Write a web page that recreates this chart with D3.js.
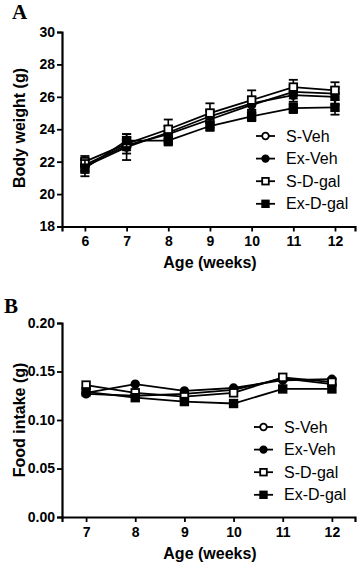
<!DOCTYPE html>
<html>
  <head>
    <meta charset="utf-8" />
    <script src="https://d3js.org/d3.v7.min.js"></script>
    <style>
      body { margin: 0; background: #fff; }
      svg { display: block; font-family: "Liberation Sans", Arial, sans-serif; }
    </style>
  </head>
  <body>
    <svg width="358" height="563"></svg>
    <script>
      const seriesNames = ["S-Veh", "Ex-Veh", "S-D-gal", "Ex-D-gal"];
      const seriesShapes = ["circle", "circle", "square", "square"];
      const seriesFilled = [false, true, false, true];

      // Panel A: body weight (g)
      const weeksA = [6, 7, 8, 9, 10, 11, 12];
      const weightSVeh = [21.8, 23.0, 23.7, 24.6, 25.5, 26.3, 26.2];
      const weightExVeh = [21.7, 22.9, 23.8, 24.8, 25.6, 26.1, 26.0];
      const weightSDgal = [22.0, 23.1, 24.0, 25.0, 25.8, 26.6, 26.4];
      const weightExDgal = [21.6, 23.3, 23.3, 24.2, 24.8, 25.3, 25.35];
      const weightErr = [
        [0.35, 0.5, 0.5, 0.5, 0.5, 0.4, 0.4],
        [0.4, 0.8, 0.4, 0.4, 0.4, 0.4, 0.5],
        [0.35, 0.4, 0.6, 0.6, 0.6, 0.45, 0.5],
        [0.5, 0.4, 0.3, 0.3, 0.3, 0.3, 0.45]
      ];
      const weightTicks = [18, 20, 22, 24, 26, 28, 30];

      // Panel B: food intake (g)
      const weeksB = [7, 8, 9, 10, 11, 12];
      const foodSVeh = [0.127, 0.125, 0.127, 0.131, 0.143, 0.137];
      const foodExVeh = [0.128, 0.137, 0.130, 0.133, 0.141, 0.142];
      const foodSDgal = [0.136, 0.128, 0.124, 0.128, 0.144, 0.139];
      const foodExDgal = [0.129, 0.123, 0.119, 0.117, 0.132, 0.132];
      const foodTicks = [0, 0.05, 0.10, 0.15, 0.20];

      const svg = d3.select("svg");

      function drawMarker(sel, shape, filled, r) {
        if (shape === "circle") {
          sel.append("circle").attr("r", r);
        } else {
          sel.append("rect").attr("x", -r).attr("y", -r).attr("width", 2 * r).attr("height", 2 * r);
        }
        sel.selectAll("circle,rect")
          .attr("fill", filled ? "#000" : "#fff")
          .attr("stroke", "#000")
          .attr("stroke-width", 1.8);
      }

      function panel(opts) {
        const x = d3.scaleLinear().domain(opts.xDomain).range([62, 355]);
        const y = d3.scaleLinear().domain(opts.yDomain).range(opts.yRange);
        const g = svg.append("g");

        const yAxis = g.append("g")
          .attr("transform", "translate(62,0)")
          .call(d3.axisLeft(y).tickValues(opts.yTicks).tickFormat(opts.yFormat).tickSize(5).tickPadding(2));
        const xAxis = g.append("g")
          .attr("transform", `translate(0,${opts.yRange[0]})`)
          .call(d3.axisBottom(x).tickValues(opts.weeks).tickFormat(d3.format("d")).tickSize(5).tickPadding(5));
        [xAxis, yAxis].forEach(a => {
          a.select(".domain").attr("stroke-width", 2.2);
          a.selectAll(".tick line").attr("stroke-width", 1.8);
          a.selectAll("text").attr("font-size", 14).attr("font-weight", "bold")
            .attr("font-family", "Liberation Sans, Arial, sans-serif").attr("fill", "#000");
        });

        g.append("text")
          .attr("x", 210).attr("y", opts.xTitleY)
          .attr("text-anchor", "middle").attr("font-size", 16).attr("font-weight", "bold")
          .text("Age (weeks)");
        g.append("text")
          .attr("transform", `translate(25,${opts.yTitleY}) rotate(-90)`)
          .attr("text-anchor", "middle").attr("font-size", 16).attr("font-weight", "bold")
          .text(opts.yTitle);
        g.append("text")
          .attr("x", opts.letterX).attr("y", opts.letterY)
          .attr("font-family", "Liberation Serif, Times New Roman, serif")
          .attr("font-size", 21).attr("font-weight", "bold")
          .text(opts.letter);

        const line = d3.line().x((d, i) => x(opts.weeks[i])).y(d => y(d));

        opts.series.forEach((vals, s) => {
          const sg = g.append("g");
          if (opts.errors) {
            vals.forEach((v, i) => {
              const e = opts.errors[s][i];
              const cx = x(opts.weeks[i]);
              sg.append("line").attr("x1", cx).attr("x2", cx)
                .attr("y1", y(v - e)).attr("y2", y(v + e))
                .attr("stroke", "#000").attr("stroke-width", 1.6);
              [v - e, v + e].forEach(b => {
                sg.append("line").attr("x1", cx - 4.5).attr("x2", cx + 4.5)
                  .attr("y1", y(b)).attr("y2", y(b))
                  .attr("stroke", "#000").attr("stroke-width", 1.8);
              });
            });
          }
          sg.append("path").datum(vals).attr("d", line)
            .attr("fill", "none").attr("stroke", "#000").attr("stroke-width", 1.8);
          vals.forEach((v, i) => {
            const m = sg.append("g").attr("transform", `translate(${x(opts.weeks[i])},${y(v)})`);
            drawMarker(m, seriesShapes[s], seriesFilled[s], 3.8);
          });
        });

        // legend
        seriesNames.forEach((name, s) => {
          const ly = opts.legendY + s * 22.6;
          const lg = g.append("g");
          lg.append("line").attr("x1", opts.legendX).attr("x2", opts.legendX + 19)
            .attr("y1", ly).attr("y2", ly).attr("stroke", "#000").attr("stroke-width", 1.8);
          const m = lg.append("g").attr("transform", `translate(${opts.legendX + 9.5},${ly})`);
          drawMarker(m, seriesShapes[s], seriesFilled[s], 3.3);
          lg.append("text").attr("x", opts.legendX + 30).attr("y", ly + 5.5)
            .attr("font-size", 16).text(name);
        });
      }

      panel({
        weeks: weeksA,
        xDomain: [5.45, 12.48],
        yDomain: [18, 30],
        yRange: [226.5, 32],
        yTicks: weightTicks,
        yFormat: d3.format("d"),
        series: [weightSVeh, weightExVeh, weightSDgal, weightExDgal],
        errors: weightErr,
        yTitle: "Body weight (g)",
        yTitleY: 128,
        xTitleY: 268,
        letter: "A", letterX: 12, letterY: 19,
        legendX: 256, legendY: 136
      });

      panel({
        weeks: weeksB,
        xDomain: [6.51, 12.47],
        yDomain: [0, 0.2],
        yRange: [517, 323],
        yTicks: foodTicks,
        yFormat: d3.format(".2f"),
        series: [foodSVeh, foodExVeh, foodSDgal, foodExDgal],
        errors: null,
        yTitle: "Food intake (g)",
        yTitleY: 420,
        xTitleY: 559,
        letter: "B", letterX: 4, letterY: 313,
        legendX: 254, legendY: 427
      });
    </script>
  </body>
</html>
